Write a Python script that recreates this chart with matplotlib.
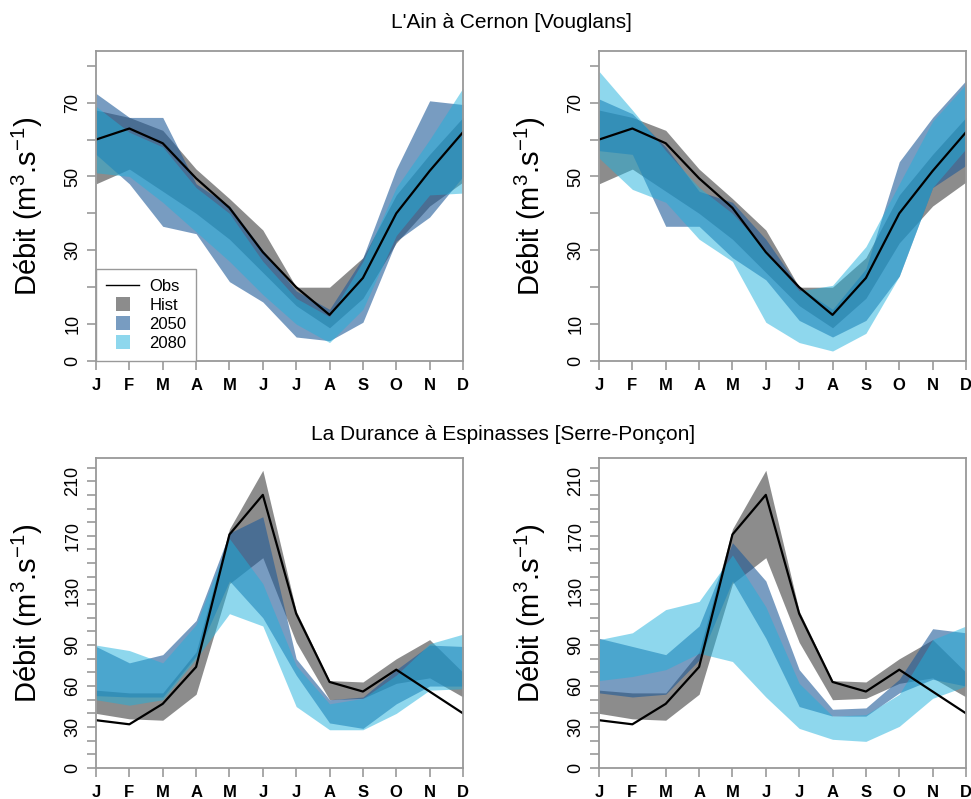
import matplotlib
matplotlib.use('Agg')
import matplotlib.pyplot as plt
from matplotlib.lines import Line2D

plt.rcParams['font.family'] = ['Liberation Sans', 'DejaVu Sans']
plt.rcParams['mathtext.fontset'] = 'custom'
plt.rcParams['mathtext.rm'] = 'Liberation Sans'
plt.rcParams['mathtext.it'] = 'Liberation Sans:italic'

months = ['J', 'F', 'M', 'A', 'M', 'J', 'J', 'A', 'S', 'O', 'N', 'D']

# L'Ain a Cernon
ain_obs = [60, 63, 59, 49.5, 41.5, 29.5, 20, 12.5, 22.5, 40, 51.5, 62]
ain_hist_lo = [48, 52, 46, 40, 33, 24, 15, 9, 17, 32, 42, 48.5]
ain_hist_hi = [68, 66, 62.5, 52, 44, 35.5, 20, 20, 28, 45, 56, 66]
ain_2050_lo_a = [56, 48, 36.5, 34.5, 21.5, 16, 6.5, 5.5, 10.5, 32.5, 39, 50]
ain_2050_hi_a = [72.5, 66, 66, 48, 42, 30, 19, 14, 28, 52, 70.5, 69.5]
ain_2080_lo_a = [51, 50, 43, 35, 27, 18, 10, 5, 14, 34, 45, 45.5]
ain_2080_hi_a = [69, 62, 58, 47, 40, 27, 17, 12, 27, 47, 60, 74]
ain_2050_lo_b = [57, 56, 36.5, 36.5, 28, 22, 11, 6.5, 11, 23, 47, 53]
ain_2050_hi_b = [71, 67, 58, 46, 43, 33, 20, 14, 25, 54, 66, 76]
ain_2080_lo_b = [55, 46.5, 43, 33, 27, 10.5, 5, 2.7, 7.5, 23, 47, 57.5]
ain_2080_hi_b = [78.5, 68, 57, 47, 40, 30, 19, 20.5, 31, 48, 65, 75]

# La Durance a Espinasses
dur_obs = [35, 32, 47, 74, 171, 200, 113, 63, 56, 72, 56, 40]
dur_hist_lo = [40, 36, 35, 54, 135, 154, 92, 50, 51, 62, 66, 52]
dur_hist_hi = [57, 55, 55, 85, 175, 218, 115, 64, 63, 80, 94, 70]
dur_2050_lo_a = [53, 52, 52, 82, 137, 110, 68, 33, 29, 47, 60, 60]
dur_2050_hi_a = [89, 77, 83, 108, 172, 184, 80, 50, 52, 72, 90, 89]
dur_2080_lo_a = [50, 46, 50, 80, 113, 104, 45, 28, 28, 40, 57, 58]
dur_2080_hi_a = [90, 86, 77, 105, 168, 135, 75, 47, 51, 68, 91, 98]
dur_2050_lo_b = [55, 52, 54, 79, 137, 95, 45, 38, 38, 55, 65, 60]
dur_2050_hi_b = [95, 89, 83, 104, 165, 137, 72, 43, 44, 65, 102, 99]
dur_2080_lo_b = [64, 67, 72, 84, 78, 52, 29, 21, 19.5, 30.5, 51, 60]
dur_2080_hi_b = [94, 99, 116, 122, 156, 118, 62, 38, 39, 54, 94, 104]

ain_ticks = list(range(0, 81, 10))
ain_labels = [0, 10, 30, 50, 70]
dur_ticks = list(range(0, 221, 10))
dur_labels = [0, 30, 60, 90, 130, 170, 210]

c_hist = '#404040'
c_2050 = '#1f5a99'
c_2080 = '#1fb0dc'
c_frame = '#999999'

fig = plt.figure(figsize=(9.71, 7.99), dpi=100)
W, H = 971, 799


def make_ax(x0, x1, y0, y1):
    return fig.add_axes([x0 / W, 1 - y1 / H, (x1 - x0) / W, (y1 - y0) / H])


def draw(ax, obs, hlo, hhi, lo50, hi50, lo80, hi80, ymax, ticks, labels):
    x = list(range(1, 13))
    ax.fill_between(x, hlo, hhi, color=c_hist, alpha=0.6, lw=0)
    ax.fill_between(x, lo50, hi50, color=c_2050, alpha=0.6, lw=0)
    ax.fill_between(x, lo80, hi80, color=c_2080, alpha=0.5, lw=0)
    ax.plot(x, obs, color='black', lw=1.6)
    ax.set_xlim(1, 12)
    ax.set_ylim(0, ymax)
    ax.set_xticks(x)
    ax.set_xticklabels(months, fontweight='bold', fontsize=12)
    ax.set_yticks(ticks)
    ax.set_yticklabels([str(t) if t in labels else '' for t in ticks], fontsize=13)
    plt.setp(ax.get_yticklabels(), rotation=90, va='center')
    ax.tick_params(axis='both', color=c_frame, length=6.5, width=1.2)
    ax.tick_params(axis='y', pad=4)
    ax.tick_params(axis='x', pad=6)
    for sp in ax.spines.values():
        sp.set_color(c_frame)
        sp.set_linewidth(1.3)
    ax.set_ylabel(r'Débit (m$^{3}$.s$^{-1}$)', fontsize=21)
    ax.yaxis.set_label_coords(-0.14, 0.5)


ax1 = make_ax(96, 463, 51, 361)
ax2 = make_ax(599, 966, 51, 361)
ax3 = make_ax(96, 463, 458, 768)
ax4 = make_ax(599, 966, 458, 768)

draw(ax1, ain_obs, ain_hist_lo, ain_hist_hi, ain_2050_lo_a, ain_2050_hi_a,
     ain_2080_lo_a, ain_2080_hi_a, 84, ain_ticks, ain_labels)
draw(ax2, ain_obs, ain_hist_lo, ain_hist_hi, ain_2050_lo_b, ain_2050_hi_b,
     ain_2080_lo_b, ain_2080_hi_b, 84, ain_ticks, ain_labels)
draw(ax3, dur_obs, dur_hist_lo, dur_hist_hi, dur_2050_lo_a, dur_2050_hi_a,
     dur_2080_lo_a, dur_2080_hi_a, 227, dur_ticks, dur_labels)
draw(ax4, dur_obs, dur_hist_lo, dur_hist_hi, dur_2050_lo_b, dur_2050_hi_b,
     dur_2080_lo_b, dur_2080_hi_b, 227, dur_ticks, dur_labels)

handles = [
    Line2D([], [], color='black', lw=1),
    Line2D([], [], ls='none', marker='s', markersize=10, markeredgewidth=0,
           markerfacecolor=c_hist, alpha=0.6),
    Line2D([], [], ls='none', marker='s', markersize=10, markeredgewidth=0,
           markerfacecolor=c_2050, alpha=0.6),
    Line2D([], [], ls='none', marker='s', markersize=10, markeredgewidth=0,
           markerfacecolor=c_2080, alpha=0.5),
]
leg = ax1.legend(handles, ['Obs', 'Hist', '2050', '2080'], loc='lower left',
                 bbox_to_anchor=(0, 0), borderaxespad=0, fontsize=12,
                 fancybox=False, framealpha=1, edgecolor=c_frame,
                 handlelength=2.0, handletextpad=0.6, labelspacing=0.25,
                 borderpad=0.6)
leg.get_frame().set_linewidth(1.0)

fig.text(511 / W, 1 - 22 / H, "L'Ain à Cernon [Vouglans]", ha='center',
         va='center', fontsize=15)
fig.text(503 / W, 1 - 435 / H, 'La Durance à Espinasses [Serre-Ponçon]',
         ha='center', va='center', fontsize=15)

plt.savefig('out.png', dpi=100)
